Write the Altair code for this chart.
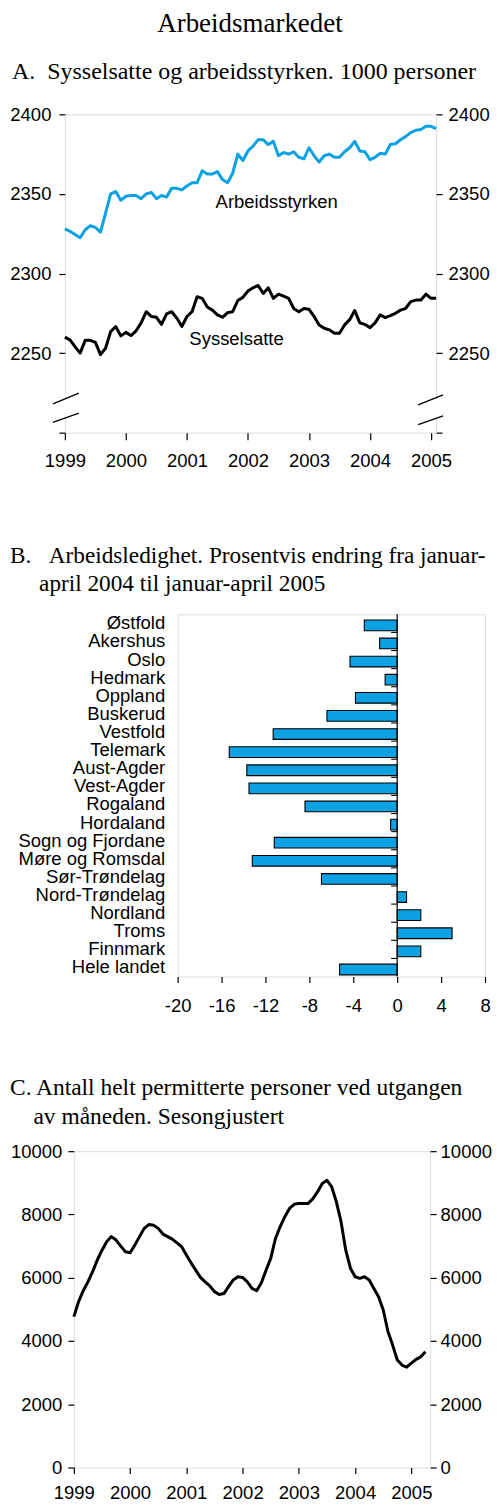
import altair as alt
import pandas as pd

BLUE = "#0ca1e2"
SANS = "Liberation Sans"
SERIF = "Liberation Serif"

# ---------------- data ----------------
months_a = pd.date_range("1999-01-01", "2005-02-01", freq="MS").strftime("%Y-%m").tolist()
arbeidsstyrken = [
    2328, 2326.5, 2324.5, 2322.5, 2327.5, 2330, 2329, 2326, 2338, 2350, 2351.5, 2346,
    2348.5, 2349, 2349, 2347, 2350, 2351, 2347, 2349, 2348, 2353.5, 2353.5, 2352.5,
    2355, 2357, 2357, 2364.5, 2362.5, 2362.5, 2364, 2359, 2357, 2363, 2375, 2371,
    2377, 2380, 2384, 2384, 2381, 2383, 2374, 2376, 2375, 2376.5, 2373, 2372,
    2379, 2374, 2370, 2374, 2375, 2373, 2373, 2376.5, 2379, 2383, 2377, 2376.5,
    2371.5, 2373, 2375.5, 2375, 2381, 2381.5, 2384, 2386, 2388.5, 2390, 2390.5, 2392.5,
    2392.5, 2391,
]
sysselsatte = [
    2260, 2258.3, 2254, 2250, 2258, 2258, 2256.7, 2249, 2253, 2263.5, 2266.7, 2260.8,
    2263, 2261, 2264, 2269, 2276, 2273, 2272.5, 2268, 2274.6, 2276, 2272, 2266.7,
    2273, 2276, 2285.4, 2284.4, 2279, 2277, 2274, 2272.5, 2275.4, 2276, 2283, 2285,
    2289, 2291, 2292.5, 2287.5, 2291, 2284.4, 2287, 2285.8, 2284.4, 2278, 2276, 2278,
    2277.5, 2273, 2267.7, 2265.6, 2264.6, 2262.5, 2262.5, 2267.7, 2271, 2276.7, 2269, 2268,
    2266, 2269, 2274, 2272.3, 2273.5, 2275, 2277, 2278, 2282.3, 2283.3, 2283.3, 2287,
    2284.4, 2284.4,
]
series_labels = ["Arbeidsstyrken", "Sysselsatte"]
label_x = [2001.47, 2001.04]
label_y = [2341.3, 2255]

fylker = [
    "Østfold", "Akershus", "Oslo", "Hedmark", "Oppland", "Buskerud", "Vestfold",
    "Telemark", "Aust-Agder", "Vest-Agder", "Rogaland", "Hordaland",
    "Sogn og Fjordane", "Møre og Romsdal", "Sør-Trøndelag", "Nord-Trøndelag",
    "Nordland", "Troms", "Finnmark", "Hele landet",
]
endring = [
    -3.0, -1.6, -4.3, -1.1, -3.8, -6.4, -11.3, -15.3, -13.7, -13.5, -8.4, -0.6,
    -11.2, -13.2, -6.9, 0.85, 2.15, 5.0, 2.15, -5.25,
]

months_c = pd.date_range("1999-01-01", "2005-04-01", freq="MS").strftime("%Y-%m").tolist()
permitterte = [
    4770, 5240, 5590, 5870, 6190, 6560, 6870, 7140, 7300, 7190, 7000, 6820,
    6790, 7030, 7300, 7560, 7680, 7660, 7560, 7380, 7300, 7220, 7100, 6980,
    6720, 6470, 6240, 6010, 5870, 5740, 5560, 5470, 5500, 5720, 5930, 6030,
    6010, 5870, 5660, 5590, 5840, 6240, 6610, 7240, 7610, 7930, 8190, 8320,
    8350, 8350, 8350, 8500, 8720, 8980, 9080, 8870, 8400, 7770, 6870, 6300,
    6030, 5980, 6030, 5930, 5660, 5400, 4980, 4300, 3870, 3400, 3240, 3170,
    3300, 3420, 3500, 3660,
]

years = [1999, 2000, 2001, 2002, 2003, 2004, 2005]


def dec_year(m):
    y, mo = m.split("-")
    return int(y) + (int(mo) - 1) / 12


ZW = "\u200b"
NB = "\u00a0"

label_common = dict(labelFont=SANS, labelFontSize=18.5, labelColor="black",
                    tickColor="black", tickWidth=1.2, grid=False, domain=False,
                    title=None, labelOverlap=False, labelFlush=False)

# ---------------- panel A ----------------
dfA = pd.DataFrame({
    "t": [dec_year(m) for m in months_a] * 2,
    "verdi": arbeidsstyrken + sysselsatte,
    "serie": ["Arbeidsstyrken"] * len(arbeidsstyrken) + ["Sysselsatte"] * len(sysselsatte),
})
xA = alt.X("t:Q", scale=alt.Scale(domain=[1999, 2005 + 1 / 12], nice=False, zero=False),
           axis=alt.Axis(values=years, format="d", tickSize=7, labelPadding=12, **label_common))
yvalsA = [2200, 2250, 2300, 2350, 2400]
yscA = alt.Scale(domain=[2200, 2400], nice=False, zero=False)
hide2200 = "datum.value == 2200 ? '' : datum.label"

linesA = alt.Chart(dfA).mark_line(strokeWidth=3, strokeJoin="round").encode(
    x=xA,
    y=alt.Y("verdi:Q", scale=yscA,
            axis=alt.Axis(orient="left", values=yvalsA, format="d", labelExpr=hide2200,
                          tickSize=6, labelPadding=8, **label_common)),
    color=alt.Color("serie:N", scale=alt.Scale(domain=series_labels, range=[BLUE, "black"]),
                    legend=None),
)

dfLab = pd.DataFrame({"t": label_x, "verdi": label_y, "tekst": series_labels})
textA = alt.Chart(dfLab).mark_text(align="left", baseline="alphabetic", font=SANS,
                                   fontSize=18.5, color="black").encode(
    x="t:Q",
    y=alt.Y("verdi:Q", scale=yscA,
            axis=alt.Axis(orient="right", values=yvalsA, format="d", labelExpr=hide2200,
                          tickSize=6, labelPadding=6, **label_common)),
    text="tekst:N",
)

dfGap = pd.DataFrame({"a": [2221.0], "b": [2210.0]})
gapL = alt.Chart(dfGap).mark_rule(color="white", strokeWidth=5).encode(
    x=alt.value(0), y=alt.Y("a:Q", scale=yscA, axis=None), y2="b:Q")
gapR = alt.Chart(dfGap).mark_rule(color="white", strokeWidth=5).encode(
    x=alt.value(372), y=alt.Y("a:Q", scale=yscA, axis=None), y2="b:Q")

dfBrkL = pd.DataFrame({"a": [2218.1, 2206.4], "b": [2224.8, 2212.3]})
brkL1 = alt.Chart(dfBrkL).mark_rule(color="black", strokeWidth=1.3).encode(
    x=alt.value(-12), x2=alt.value(14), y=alt.Y("a:Q", scale=yscA, axis=None), y2="b:Q")
dfBrkR = pd.DataFrame({"a": [2217.5, 2205.0], "b": [2223.8, 2210.6]})
brkR1 = alt.Chart(dfBrkR).mark_rule(color="black", strokeWidth=1.3).encode(
    x=alt.value(372 - 18), x2=alt.value(372 + 7), y=alt.Y("a:Q", scale=yscA, axis=None), y2="b:Q")

panelA = alt.layer(linesA, textA, gapL, gapR, brkL1, brkR1).resolve_scale(y="independent").properties(
    width=372, height=319,
    title=alt.Title("A." + NB + NB + "Sysselsatte og arbeidsstyrken. 1000 personer",
                    anchor="start", frame="group", dx=-53, offset=21,
                    font=SERIF, fontSize=24, fontWeight="normal", color="black"),
)

# ---------------- panel B ----------------
dfB = pd.DataFrame({"fylke": fylker, "endring": endring})
xB = alt.X("endring:Q", scale=alt.Scale(domain=[-20, 8], nice=False, zero=False),
           axis=alt.Axis(values=[-20, -16, -12, -8, -4, 0, 4, 8], labelExpr="'' + datum.value",
                         tickSize=6, labelPadding=14, **label_common))
yB = alt.Y("fylke:N", sort=fylker,
           scale=alt.Scale(paddingInner=0.41, paddingOuter=0.205),
           axis=alt.Axis(title=None, ticks=False, domain=False, labelPadding=13,
                         labelFont=SANS, labelFontSize=18.5, labelColor="black", labelLimit=400))
bars = alt.Chart(dfB).mark_bar(color=BLUE, stroke="black", strokeWidth=1.1, yOffset=2).encode(
    x=xB, y=yB)
zero = alt.Chart(pd.DataFrame({"z": [0]})).mark_rule(color="black", strokeWidth=1.2).encode(
    x="z:Q")
ticksB = alt.Chart(dfB.iloc[1:]).mark_rule(color="black", strokeWidth=1.1, yOffset=-9.07).encode(
    x=alt.datum(-0.55), x2=alt.datum(0), y=alt.Y("fylke:N", sort=fylker))
panelB = alt.layer(bars, ticksB, zero).properties(
    width=308, height=363,
    title=alt.Title(["B." + NB * 3 + "Arbeidsledighet. Prosentvis endring fra januar-",
                     ZW + NB * 5 + "april 2004 til januar-april 2005"],
                    anchor="start", frame="group", dx=-168, offset=17, lineHeight=28,
                    font=SERIF, fontSize=23.3, fontWeight="normal", color="black"),
)

# ---------------- panel C ----------------
dfC = pd.DataFrame({"t": [dec_year(m) for m in months_c], "antall": permitterte})
xC = alt.X("t:Q", scale=alt.Scale(domain=[1999, 2005 + 4 / 12], nice=False, zero=False),
           axis=alt.Axis(values=years, format="d", tickSize=6, labelPadding=10, **label_common))
yscC = alt.Scale(domain=[0, 10000], nice=False)
yvalsC = [0, 2000, 4000, 6000, 8000, 10000]
lineC = alt.Chart(dfC).mark_line(strokeWidth=3, color="black", strokeJoin="round").encode(
    x=xC, y=alt.Y("antall:Q", scale=yscC,
                  axis=alt.Axis(orient="left", values=yvalsC, format="d", tickSize=6,
                                labelPadding=6, **label_common)))
ghostC = alt.Chart(dfC).mark_line(opacity=0).encode(
    x=xC, y=alt.Y("antall:Q", scale=yscC,
                  axis=alt.Axis(orient="right", values=yvalsC, format="d", tickSize=6,
                                labelPadding=4, **label_common)))
panelC = alt.layer(lineC, ghostC).resolve_scale(y="independent").properties(
    width=357, height=317,
    title=alt.Title(["C. Antall helt permitterte personer ved utgangen",
                     ZW + NB * 4 + "av måneden. Sesongjustert"],
                    anchor="start", frame="group", dx=-64, offset=14, lineHeight=29,
                    font=SERIF, fontSize=23.5, fontWeight="normal", color="black"),
)


def spacer():
    return alt.Chart(pd.DataFrame({"s": [0]})).mark_text(text="", opacity=0).encode(
        x=alt.value(0), y=alt.value(0)
    ).properties(width=1, height=1, view=alt.ViewBackground(strokeOpacity=0))


def row(panel):
    return alt.concat(spacer(), panel, columns=2, spacing=0, align="none")


top = alt.concat(row(panelA), row(panelB), columns=1, spacing=73, align="none")
chart = alt.concat(
    top, row(panelC), columns=1, spacing=60, align="none",
    title=alt.Title("Arbeidsmarkedet", anchor="middle", font=SERIF, fontSize=27,
                    fontWeight="normal", color="black", offset=22),
).configure_view(stroke="black", strokeWidth=1.3).configure(
    background="white", padding={"left": 0, "top": 0, "right": 0, "bottom": 0}
).properties(padding={"left": 0, "top": 0, "right": 0, "bottom": 0})

chart.save("out.html", embed_options={"renderer": "svg", "actions": False})
